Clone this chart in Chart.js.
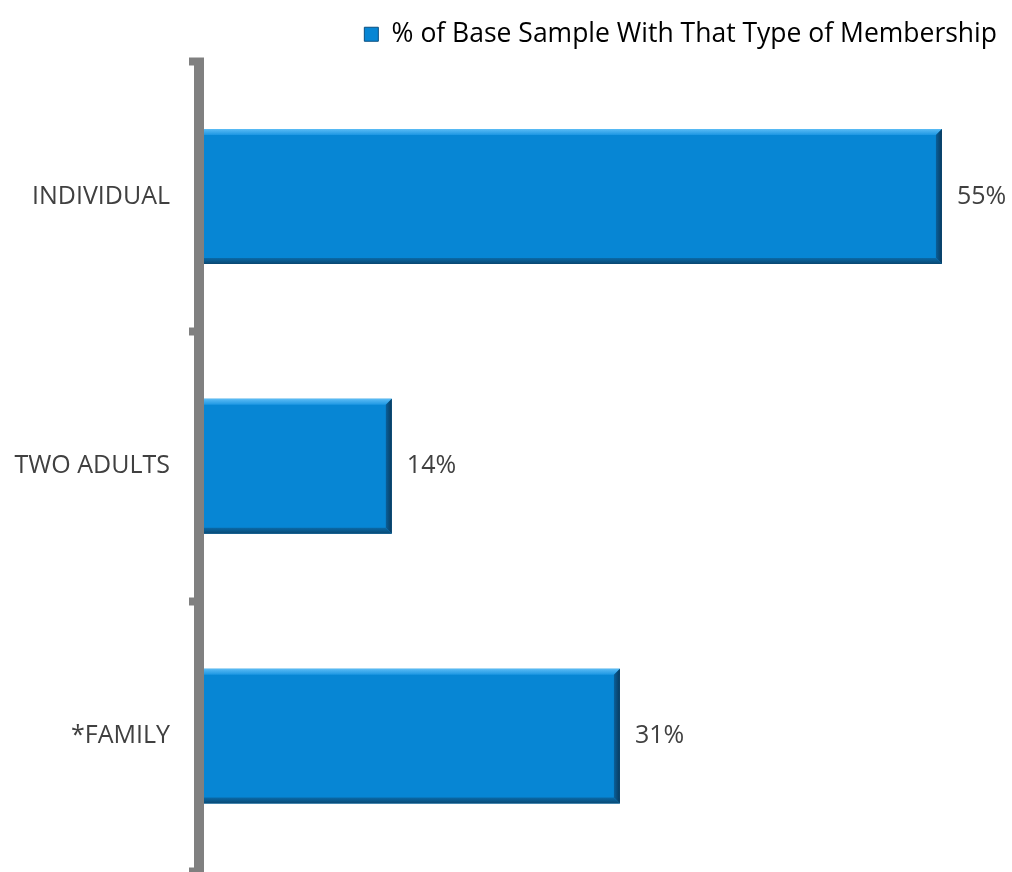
<!DOCTYPE html>
<html>
<head>
<meta charset="utf-8">
<script src="https://cdn.jsdelivr.net/npm/chart.js@4"></script>
<style>
  html, body { margin: 0; padding: 0; background: #ffffff; overflow: hidden; }
  canvas { display: block; }
</style>
</head>
<body>
<canvas id="membershipChart" width="1012" height="872"></canvas>
<script>
const categories = ['INDIVIDUAL', 'TWO ADULTS', '*FAMILY'];
const shares = [55, 14, 31];
const seriesName = '% of Base Sample With That Type of Membership';

const FONT = "'Open Sans', 'Noto Sans', sans-serif";

// extra room under the legend
const legendGap = {
    id: 'legendGap',
    beforeInit(chart) {
        const fit = chart.legend.fit;
        chart.legend.fit = function () {
            fit.bind(this)();
            this.height += 4;
        };
    }
};

// thick grey axis line, sitting just left of the bars
const axisLine = {
    id: 'axisLine',
    beforeDatasetsDraw(chart) {
        const { ctx, chartArea } = chart;
        ctx.save();
        ctx.fillStyle = '#808080';
        ctx.fillRect(chartArea.left - 10, chartArea.top + 2, 10, chartArea.bottom - chartArea.top - 2);
        ctx.restore();
    }
};

// bevel look on each bar, drawn on top of the plain fill
const bevelBars = {
    id: 'bevelBars',
    afterDatasetDraw(chart, args) {
        const ctx = chart.ctx;
        args.meta.data.forEach(bar => {
            const left = bar.base, right = bar.x;
            const top = bar.y - bar.height / 2, bottom = bar.y + bar.height / 2;
            const b = 6;
            ctx.save();
            let g = ctx.createLinearGradient(0, top, 0, top + b);
            g.addColorStop(0, '#5cbcf5');
            g.addColorStop(1, '#1d97e3');
            ctx.fillStyle = g;
            ctx.beginPath();
            ctx.moveTo(left, top); ctx.lineTo(right, top);
            ctx.lineTo(right - b, top + b); ctx.lineTo(left, top + b);
            ctx.closePath(); ctx.fill();
            g = ctx.createLinearGradient(right - b, 0, right, 0);
            g.addColorStop(0, '#0a5f99');
            g.addColorStop(1, '#083a5e');
            ctx.fillStyle = g;
            ctx.beginPath();
            ctx.moveTo(right, top); ctx.lineTo(right, bottom);
            ctx.lineTo(right - b, bottom - b); ctx.lineTo(right - b, top + b);
            ctx.closePath(); ctx.fill();
            g = ctx.createLinearGradient(0, bottom - b, 0, bottom);
            g.addColorStop(0, '#0a6aa8');
            g.addColorStop(1, '#094872');
            ctx.fillStyle = g;
            ctx.beginPath();
            ctx.moveTo(left, bottom); ctx.lineTo(right, bottom);
            ctx.lineTo(right - b, bottom - b); ctx.lineTo(left, bottom - b);
            ctx.closePath(); ctx.fill();
            ctx.restore();
        });
    }
};

// value labels to the right of the bars
const valueLabels = {
    id: 'valueLabels',
    afterDatasetsDraw(chart) {
        const ctx = chart.ctx;
        const meta = chart.getDatasetMeta(0);
        ctx.save();
        ctx.font = `25px ${FONT}`;
        ctx.fillStyle = '#404040';
        ctx.textAlign = 'left';
        ctx.textBaseline = 'middle';
        meta.data.forEach((bar, i) => {
            ctx.fillText(shares[i] + '%', bar.x + 15, bar.y);
        });
        ctx.restore();
    }
};

new Chart(document.getElementById('membershipChart'), {
    type: 'bar',
    data: {
        labels: categories,
        datasets: [{
            label: seriesName,
            data: shares,
            backgroundColor: '#0786d4',
            borderWidth: 0,
            barPercentage: 0.5,
            categoryPercentage: 1
        }]
    },
    options: {
        indexAxis: 'y',
        responsive: false,
        animation: false,
        layout: { padding: { left: 0, right: 3, top: 9, bottom: 1 } },
        plugins: {
            legend: {
                position: 'top',
                align: 'end',
                labels: {
                    boxWidth: 14,
                    boxHeight: 14,
                    padding: 12,
                    color: '#404040',
                    font: { family: FONT, size: 26.5 },
                    generateLabels(chart) {
                        return [{
                            text: seriesName,
                            fillStyle: '#0786d4',
                            strokeStyle: '#0a4f80',
                            lineWidth: 1,
                            datasetIndex: 0
                        }];
                    }
                }
            },
            tooltip: { enabled: false }
        },
        scales: {
            x: {
                display: false,
                min: 0,
                max: 60
            },
            y: {
                afterFit(scale) {
                    scale.width = 204;
                    scale.paddingTop = 0;
                    scale.paddingBottom = 0;
                },
                border: { display: false },
                grid: {
                    display: true,
                    drawOnChartArea: false,
                    drawTicks: true,
                    tickLength: 15,
                    tickWidth: 8,
                    tickColor: '#808080',
                    offset: true
                },
                ticks: {
                    color: '#404040',
                    padding: 19,
                    font: { family: FONT, size: 25 }
                }
            }
        }
    },
    plugins: [legendGap, axisLine, bevelBars, valueLabels]
});
</script>
</body>
</html>
